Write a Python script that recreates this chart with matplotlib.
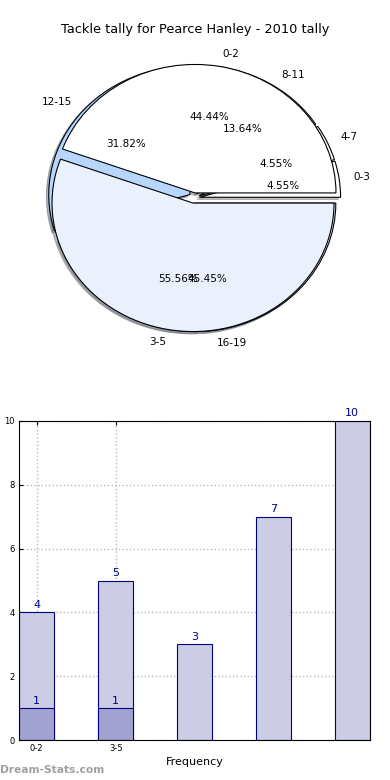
import numpy as np
import matplotlib
matplotlib.use("Agg")
import matplotlib.pyplot as plt

# chart data
title = "Tackle tally for Pearce Hanley - 2010 tally"

# pie 1: frequency groups
freq_labels = ["0-2", "3-5"]
freq_values = [4, 5]

# pie 2: tackle groups
tackle_labels = ["0-3", "4-7", "8-11", "12-15", "16-19"]
tackle_values = [1, 1, 3, 7, 10]

# bars
bar_totals = [4, 5, 3, 7, 10]
bar_small = [1, 1]
bar_ticklabels = ["0-2", "3-5"]

W, H = 390, 780
fig = plt.figure(figsize=(3.9, 7.8), dpi=100)

# pie axes, placed by pixel so the (non-square) pie matches
cx, cy = 194, 198
rx, ry = 141, 128.5
lim = 1.35
ax1 = fig.add_axes([(cx - lim * rx) / W, 1 - (cy + lim * ry) / H,
                    2 * lim * rx / W, 2 * lim * ry / H])

pie_font = 7.5
shadow = {"ox": -0.012, "oy": -0.012, "shade": 0.5}
ax1.pie(tackle_values, labels=tackle_labels, autopct="%1.2f%%",
        explode=[0.04] * len(tackle_values), shadow=shadow,
        colors=["white", "white", "white", "#b7d6fd", "#eaf1fd"],
        wedgeprops=dict(edgecolor="black", linewidth=0.8),
        textprops=dict(fontsize=pie_font))
ax1.pie(freq_values, labels=freq_labels, autopct="%1.2f%%",
        explode=[0.04] * len(freq_values), shadow=shadow,
        colors=["white", "#eaf1fd"],
        wedgeprops=dict(edgecolor="black", linewidth=0.8),
        textprops=dict(fontsize=pie_font))
ax1.set_aspect("auto")
ax1.set_xlim(-lim, lim)
ax1.set_ylim(-lim, lim)
ax1.axis("off")

fig.text(0.5, 1 - 30 / H, title, ha="center", va="center", fontsize=9.3)

# bar axes
ax2 = fig.add_axes([19 / W, 40 / H, 351 / W, 319 / H])
x = np.arange(len(bar_totals))
width = 0.45
ax2.bar(x, bar_totals, width, align="edge", color="#cccce5",
        edgecolor="navy", linewidth=0.8)
ax2.bar(x[:len(bar_small)], bar_small, width, align="edge", color="#a3a3d1",
        edgecolor="navy", linewidth=0.8)

for xi, v in zip(x, bar_totals):
    ax2.text(xi + width / 2, v + 0.08, str(v), ha="center", va="bottom",
             fontsize=8, color="#00008b")
for xi, v in zip(x[:len(bar_small)], bar_small):
    ax2.text(xi + width / 2, v + 0.08, str(v), ha="center", va="bottom",
             fontsize=8, color="#00008b")

ax2.set_xlim(0, len(bar_totals) - 1 + width)
ax2.set_ylim(0, 10)
ax2.set_yticks(range(0, 11, 2))
ax2.set_xticks(x[:len(bar_ticklabels)] + width / 2)
ax2.set_xticklabels(bar_ticklabels)
ax2.tick_params(direction="in", top=True, right=True, length=3,
                labelsize=6, pad=3)
ax2.grid(True, linestyle=":", color="#bbbbbb", linewidth=1.0)
ax2.set_axisbelow(True)
ax2.set_xlabel("Frequency", fontsize=8, labelpad=3)

fig.text(0.0, 1 - 770 / H, "Dream-Stats.com", ha="left", va="center",
         fontsize=7.7, fontweight="bold", color="#a0a0a0")

fig.savefig("out.png", dpi=100)
